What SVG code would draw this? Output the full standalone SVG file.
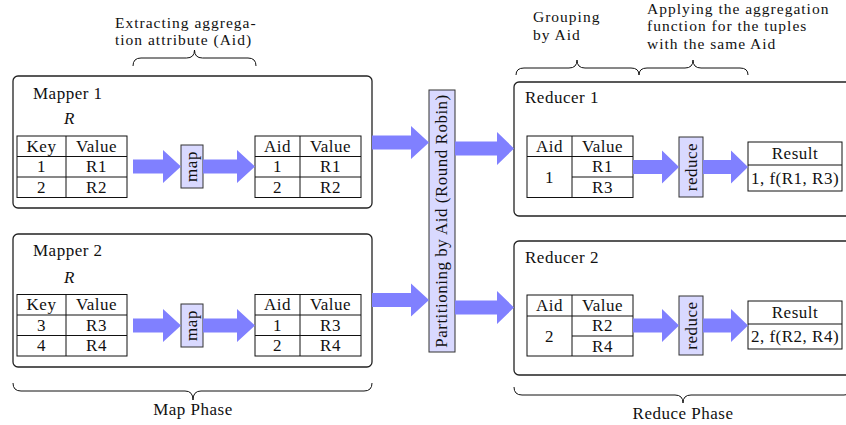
<svg xmlns="http://www.w3.org/2000/svg" width="846" height="425" viewBox="0 0 846 425">
<style>
text{font-family:"Liberation Serif","DejaVu Serif",serif;font-size:17px;letter-spacing:0.5px;fill:#111}
.c{text-anchor:middle}
.an{font-size:15.5px;letter-spacing:1px}
.box{fill:#fff;stroke:#222;stroke-width:1.3}
.tb{fill:#fff;stroke:#111;stroke-width:1}
.ln{stroke:#111;stroke-width:1;fill:none}
.op{fill:#d9d9ff;stroke:#333;stroke-width:1}
.ar{fill:#8080ff;stroke:none}
.br{fill:none;stroke:#111;stroke-width:1}
</style>
<rect width="846" height="425" fill="#fff"/>

<g id="braces">
<path class="br" d="M133,66 Q133,58 141,58 L186.5,58 Q194.5,58 194.5,50 Q194.5,58 202.5,58 L248,58 Q256,58 256,66"/>
<path class="br" d="M516,75 Q516,68 524,68 L569,68 Q577,68 577,60 Q577,68 585,68 L631,68 Q639,68 639,75"/>
<path class="br" d="M639,75 Q639,68 647,68 L685,68 Q693,68 693,60 Q693,68 701,68 L740,68 Q748,68 748,75"/>
<path class="br" d="M13,383 Q13,391 21,391 L185,391 Q193,391 193,400 Q193,391 201,391 L364,391 Q372,391 372,383"/>
<path class="br" d="M514,387 Q514,395 522,395 L675,395 Q683,395 683,403 Q683,395 691,395 L844,395 Q852,395 852,387"/>
</g>
<g id="annotations">
<text class="an" x="115" y="27.5">Extracting aggrega-</text>
<text class="an" x="115" y="45">tion attribute (Aid)</text>
<text class="an" x="533" y="22">Grouping</text>
<text class="an" x="533" y="39.5">by Aid</text>
<text class="an" x="647" y="14">Applying the aggregation</text>
<text class="an" x="647" y="31.3">function for the tuples</text>
<text class="an" x="647" y="48.6">with the same Aid</text>
<text class="c" x="193" y="415">Map Phase</text>
<text class="c" x="683" y="419">Reduce Phase</text>
</g>

<g id="mapper1">
<rect class="box" x="13" y="76" width="359" height="132" rx="5"/>
<text x="33" y="99">Mapper 1</text>
<text x="64" y="124" font-style="italic">R</text>
<rect class="tb" x="17" y="136" width="110" height="61.5"/>
<path class="ln" d="M66,136V197.5M17,156.5H127M17,177H127"/>
<text class="c" x="41.5" y="151.5">Key</text><text class="c" x="96.5" y="151.5">Value</text>
<text class="c" x="41.5" y="172">1</text><text class="c" x="96.5" y="172">R1</text>
<text class="c" x="41.5" y="192.5">2</text><text class="c" x="96.5" y="192.5">R2</text>
<rect class="op" x="181" y="145" width="22" height="43"/>
<text class="c" transform="translate(197,166.5) rotate(-90)">map</text>
<rect class="tb" x="255" y="136" width="106" height="61.5"/>
<path class="ln" d="M300,136V197.5M255,156.5H361M255,177H361"/>
<text class="c" x="277.5" y="151.5">Aid</text><text class="c" x="330.5" y="151.5">Value</text>
<text class="c" x="277.5" y="172">1</text><text class="c" x="330.5" y="172">R1</text>
<text class="c" x="277.5" y="192.5">2</text><text class="c" x="330.5" y="192.5">R2</text>
</g>

<g id="mapper2">
<rect class="box" x="13" y="234" width="359" height="133" rx="5"/>
<text x="33" y="256">Mapper 2</text>
<text x="64" y="283" font-style="italic">R</text>
<rect class="tb" x="17" y="294.5" width="110" height="61.5"/>
<path class="ln" d="M66,294.5V356M17,315H127M17,335.5H127"/>
<text class="c" x="41.5" y="310">Key</text><text class="c" x="96.5" y="310">Value</text>
<text class="c" x="41.5" y="330.5">3</text><text class="c" x="96.5" y="330.5">R3</text>
<text class="c" x="41.5" y="351">4</text><text class="c" x="96.5" y="351">R4</text>
<rect class="op" x="181" y="304" width="22" height="43"/>
<text class="c" transform="translate(197,325.5) rotate(-90)">map</text>
<rect class="tb" x="255" y="294.5" width="106" height="61.5"/>
<path class="ln" d="M300,294.5V356M255,315H361M255,335.5H361"/>
<text class="c" x="277.5" y="310">Aid</text><text class="c" x="330.5" y="310">Value</text>
<text class="c" x="277.5" y="330.5">1</text><text class="c" x="330.5" y="330.5">R3</text>
<text class="c" x="277.5" y="351">2</text><text class="c" x="330.5" y="351">R4</text>
</g>

<g id="partition">
<rect class="op" x="429" y="90" width="26" height="262"/>
<text class="c" transform="translate(447,221) rotate(-90)">Partitioning by Aid (Round Robin)</text>
</g>

<g id="reducer1">
<rect class="box" x="514" y="82" width="340" height="134" rx="5"/>
<text x="525" y="103">Reducer 1</text>
<rect class="tb" x="527" y="136" width="106" height="61.5"/>
<path class="ln" d="M572,136V197.5M527,156.5H633M572,177H633"/>
<text class="c" x="549.5" y="151.5">Aid</text><text class="c" x="602.5" y="151.5">Value</text>
<text class="c" x="549.5" y="182.5">1</text>
<text class="c" x="602.5" y="172">R1</text><text class="c" x="602.5" y="192.5">R3</text>
<rect class="op" x="679" y="137" width="24" height="60"/>
<text class="c" transform="translate(697,167) rotate(-90)">reduce</text>
<rect class="tb" x="748" y="142" width="94" height="49"/>
<path class="ln" d="M748,165H842"/>
<text class="c" x="795" y="158.5">Result</text>
<text class="c" x="795" y="183.5">1, f(R1, R3)</text>
</g>

<g id="reducer2">
<rect class="box" x="514" y="241" width="340" height="134" rx="5"/>
<text x="525" y="263">Reducer 2</text>
<rect class="tb" x="527" y="295" width="106" height="61"/>
<path class="ln" d="M572,295V356M527,316H633M572,336H633"/>
<text class="c" x="549.5" y="310.5">Aid</text><text class="c" x="602.5" y="310.5">Value</text>
<text class="c" x="549.5" y="341.5">2</text>
<text class="c" x="602.5" y="331">R2</text><text class="c" x="602.5" y="351.5">R4</text>
<rect class="op" x="679" y="296" width="24" height="59"/>
<text class="c" transform="translate(697,325.5) rotate(-90)">reduce</text>
<rect class="tb" x="748" y="301" width="94" height="48"/>
<path class="ln" d="M748,324H842"/>
<text class="c" x="795" y="317.5">Result</text>
<text class="c" x="795" y="341.5">2, f(R2, R4)</text>
</g>

<g id="connectors">
<path class="ar" d="M133,159.5H163V150L181,166.5L163,183V173.5H133Z"/>
<path class="ar" d="M203,159.5H237V150L255,166.5L237,183V173.5H203Z"/>
<path class="ar" d="M372,135.5H411V126L429,142.5L411,159V149.5H372Z"/>
<path class="ar" d="M455,141.5H497V132L514,148.5L497,165V155.5H455Z"/>
<path class="ar" d="M133,318.5H163V309L181,325.5L163,342V332.5H133Z"/>
<path class="ar" d="M203,318.5H237V309L255,325.5L237,342V332.5H203Z"/>
<path class="ar" d="M372,293H411V283.5L429,300L411,316.5V307H372Z"/>
<path class="ar" d="M455,300.5H497V291L514,307.5L497,324V314.5H455Z"/>
<path class="ar" d="M633,160H662V150.5L679,167L662,183.5V174H633Z"/>
<path class="ar" d="M703,160H731V150.5L748,167L731,183.5V174H703Z"/>
<path class="ar" d="M633,318.5H662V309L679,325.5L662,342V332.5H633Z"/>
<path class="ar" d="M703,318.5H731V309L748,325.5L731,342V332.5H703Z"/>
</g>
</svg>
